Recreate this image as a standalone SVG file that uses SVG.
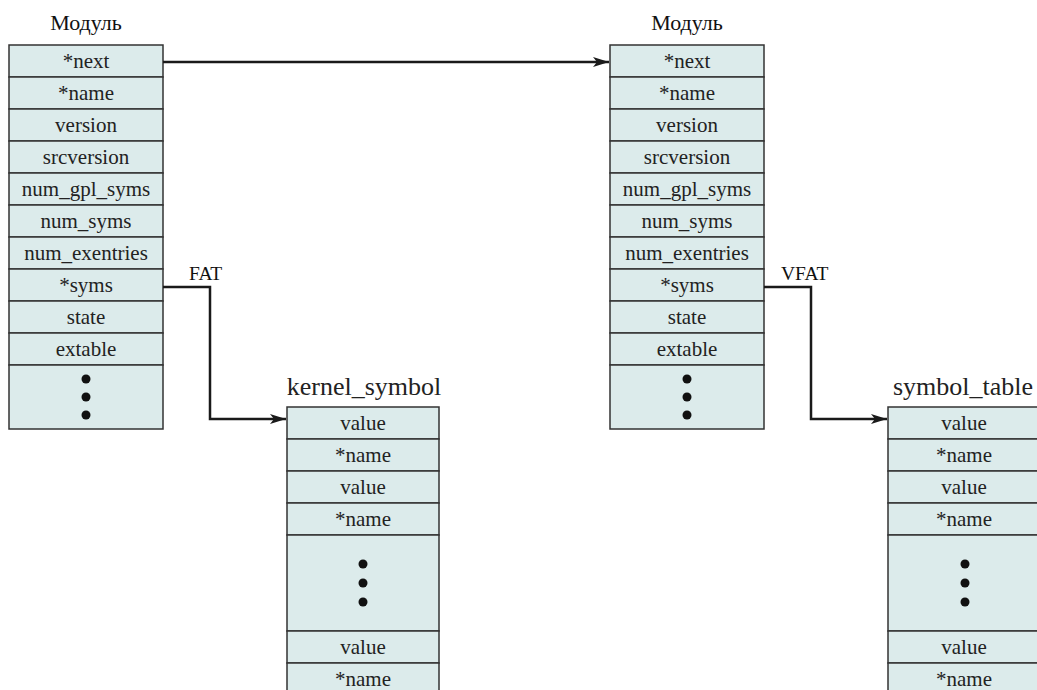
<svg xmlns="http://www.w3.org/2000/svg" width="1037" height="690" viewBox="0 0 1037 690">
<defs>
<style>
.cell{fill:#dcebeb;stroke:#333;stroke-width:1.5}
.t{font-size:21px;fill:#222;text-anchor:middle}
.title{font-size:22px;fill:#111;text-anchor:middle}
.big{font-size:26px;fill:#222;text-anchor:middle}
.lbl{font-size:19.5px;fill:#111}
.dot{fill:#111}
.conn{fill:none;stroke:#1a1a1a;stroke-width:2.5}
</style>
<marker id="arr" viewBox="0 0 16 10" refX="16" refY="5" markerWidth="16" markerHeight="10" markerUnits="userSpaceOnUse" orient="auto">
<path d="M0,0 L16,5 L0,10 L4,5 Z" fill="#1a1a1a"/>
</marker>
</defs>
<g font-family="Liberation Serif, Times New Roman, serif">
<g id="module1">
<text class="title" x="86" y="30">Модуль</text>
<rect class="cell" x="9" y="45" width="154" height="32"/><text class="t" x="86" y="68">*next</text>
<rect class="cell" x="9" y="77" width="154" height="32"/><text class="t" x="86" y="100">*name</text>
<rect class="cell" x="9" y="109" width="154" height="32"/><text class="t" x="86" y="132">version</text>
<rect class="cell" x="9" y="141" width="154" height="32"/><text class="t" x="86" y="164">srcversion</text>
<rect class="cell" x="9" y="173" width="154" height="32"/><text class="t" x="86" y="196">num_gpl_syms</text>
<rect class="cell" x="9" y="205" width="154" height="32"/><text class="t" x="86" y="228">num_syms</text>
<rect class="cell" x="9" y="237" width="154" height="32"/><text class="t" x="86" y="260">num_exentries</text>
<rect class="cell" x="9" y="269" width="154" height="32"/><text class="t" x="86" y="292">*syms</text>
<rect class="cell" x="9" y="301" width="154" height="32"/><text class="t" x="86" y="324">state</text>
<rect class="cell" x="9" y="333" width="154" height="32"/><text class="t" x="86" y="356">extable</text>
<rect class="cell" x="9" y="365" width="154" height="64"/>
<circle class="dot" cx="86" cy="379" r="4.5"/><circle class="dot" cx="86" cy="397" r="4.5"/><circle class="dot" cx="86" cy="415" r="4.5"/>
</g>
<g id="module2">
<text class="title" x="687" y="30">Модуль</text>
<rect class="cell" x="610" y="45" width="154" height="32"/><text class="t" x="687" y="68">*next</text>
<rect class="cell" x="610" y="77" width="154" height="32"/><text class="t" x="687" y="100">*name</text>
<rect class="cell" x="610" y="109" width="154" height="32"/><text class="t" x="687" y="132">version</text>
<rect class="cell" x="610" y="141" width="154" height="32"/><text class="t" x="687" y="164">srcversion</text>
<rect class="cell" x="610" y="173" width="154" height="32"/><text class="t" x="687" y="196">num_gpl_syms</text>
<rect class="cell" x="610" y="205" width="154" height="32"/><text class="t" x="687" y="228">num_syms</text>
<rect class="cell" x="610" y="237" width="154" height="32"/><text class="t" x="687" y="260">num_exentries</text>
<rect class="cell" x="610" y="269" width="154" height="32"/><text class="t" x="687" y="292">*syms</text>
<rect class="cell" x="610" y="301" width="154" height="32"/><text class="t" x="687" y="324">state</text>
<rect class="cell" x="610" y="333" width="154" height="32"/><text class="t" x="687" y="356">extable</text>
<rect class="cell" x="610" y="365" width="154" height="64"/>
<circle class="dot" cx="687" cy="379" r="4.5"/><circle class="dot" cx="687" cy="397" r="4.5"/><circle class="dot" cx="687" cy="415" r="4.5"/>
</g>
<g id="kernel_symbol">
<text class="big" x="364" y="395">kernel_symbol</text>
<rect class="cell" x="287" y="407" width="152" height="32"/><text class="t" x="363" y="430">value</text>
<rect class="cell" x="287" y="439" width="152" height="32"/><text class="t" x="363" y="462">*name</text>
<rect class="cell" x="287" y="471" width="152" height="32"/><text class="t" x="363" y="494">value</text>
<rect class="cell" x="287" y="503" width="152" height="32"/><text class="t" x="363" y="526">*name</text>
<rect class="cell" x="287" y="535" width="152" height="96"/>
<circle class="dot" cx="363" cy="564" r="4.5"/><circle class="dot" cx="363" cy="583" r="4.5"/><circle class="dot" cx="363" cy="602" r="4.5"/>
<rect class="cell" x="287" y="631" width="152" height="32"/><text class="t" x="363" y="654">value</text>
<rect class="cell" x="287" y="663" width="152" height="40"/><text class="t" x="363" y="686">*name</text>
</g>
<g id="symbol_table">
<text class="big" x="893" y="395" text-anchor="start" style="text-anchor:start">symbol_table</text>
<rect class="cell" x="888" y="407" width="152" height="32"/><text class="t" x="964" y="430">value</text>
<rect class="cell" x="888" y="439" width="152" height="32"/><text class="t" x="964" y="462">*name</text>
<rect class="cell" x="888" y="471" width="152" height="32"/><text class="t" x="964" y="494">value</text>
<rect class="cell" x="888" y="503" width="152" height="32"/><text class="t" x="964" y="526">*name</text>
<rect class="cell" x="888" y="535" width="152" height="96"/>
<circle class="dot" cx="965" cy="564" r="4.5"/><circle class="dot" cx="965" cy="583" r="4.5"/><circle class="dot" cx="965" cy="602" r="4.5"/>
<rect class="cell" x="888" y="631" width="152" height="32"/><text class="t" x="964" y="654">value</text>
<rect class="cell" x="888" y="663" width="152" height="40"/><text class="t" x="964" y="686">*name</text>
</g>
<g id="connectors">
<path class="conn" d="M163,62 H609" marker-end="url(#arr)"/>
<path class="conn" d="M163,287 H210 V419 H286" marker-end="url(#arr)"/>
<path class="conn" d="M764,287 H811 V419 H887" marker-end="url(#arr)"/>
<text class="lbl" x="189" y="280">FAT</text>
<text class="lbl" x="781" y="280">VFAT</text>
</g>
</g>
</svg>
